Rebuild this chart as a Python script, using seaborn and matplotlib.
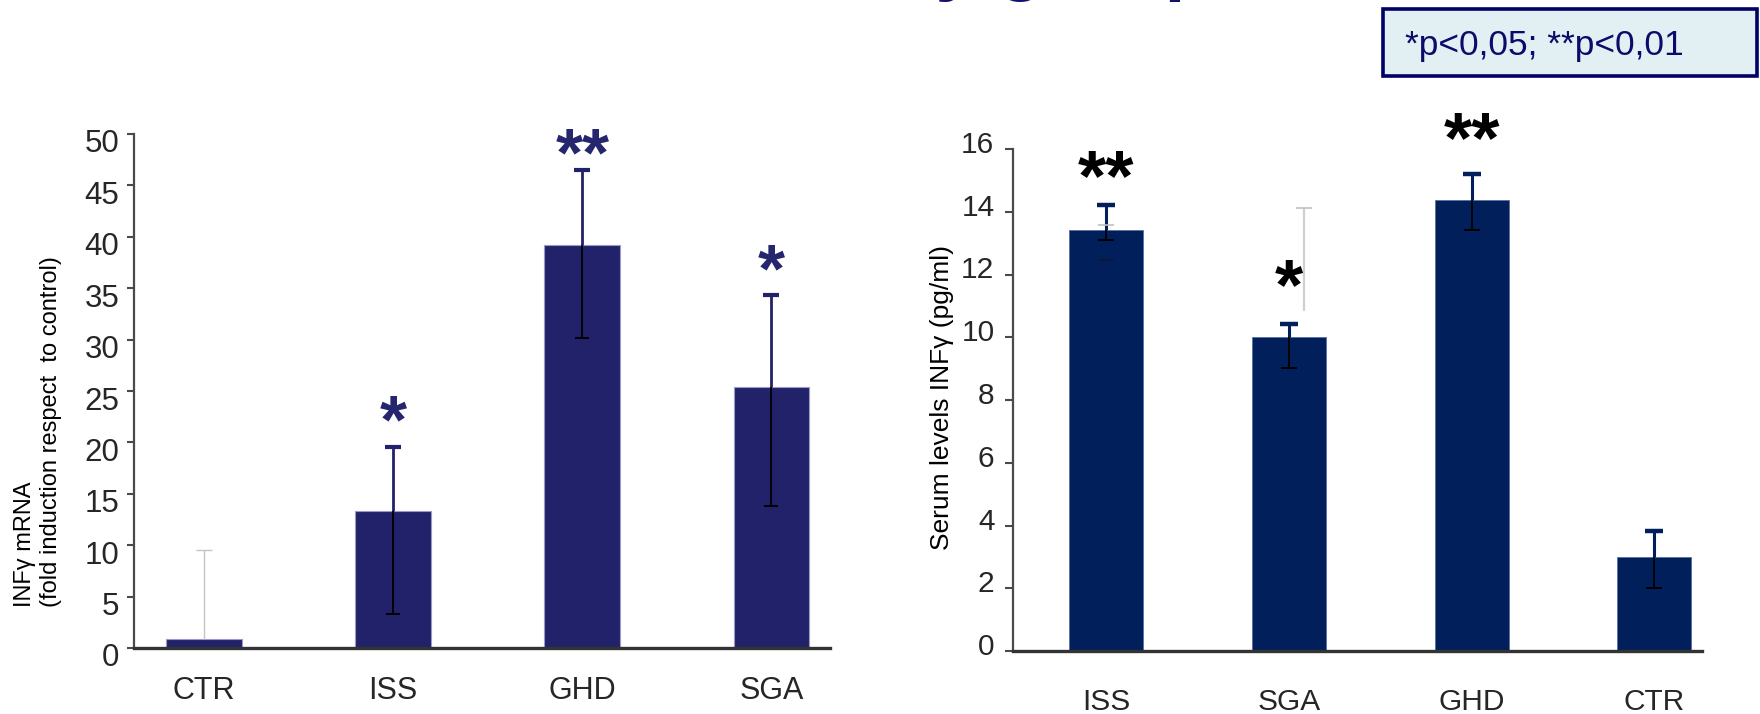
import numpy as np
import pandas as pd
import matplotlib
matplotlib.use("Agg")
import matplotlib.pyplot as plt
from matplotlib.transforms import ScaledTranslation
from matplotlib.patches import Rectangle
import seaborn as sns

# ---------------- data ----------------
left_cats = ["CTR", "ISS", "GHD", "SGA"]
left_means = [0.9, 13.3, 39.2, 25.4]
left_err_top = [9.5, 19.6, 46.5, 34.3]
left_err_bottom = [np.nan, 3.35, 30.15, 13.85]
left_stars = ["", "*", "**", "*"]
left_star_y = [np.nan, 23.4, 49.4, 38.1]
left_yticks = [0, 5, 10, 15, 20, 25, 30, 35, 40, 45, 50]

right_cats = ["ISS", "SGA", "GHD", "CTR"]
right_means = [13.41, 10.0, 14.39, 3.0]
right_err_top = [14.21, 10.43, 15.19, 3.81]
right_err_bottom = [13.1, 9.03, 13.43, 2.0]
right_ghost_top = [13.57, 14.11, np.nan, np.nan]
right_ghost_bottom = [12.45, 10.85, np.nan, np.nan]
right_stars = ["**", "*", "**", ""]
right_star_y = [15.4, 11.93, 16.62, np.nan]
right_yticks = [0, 2, 4, 6, 8, 10, 12, 14, 16]

left_ylabel = "INFγ mRNA\n(fold induction respect  to control)"
right_ylabel = "Serum levels INFγ (pg/ml)"
legend_text = "*p<0,05; **p<0,01"
title_text = "Interferon levels by group"

# ---------------- style ----------------
sns.set_theme(style="white")
plt.rcParams["font.family"] = ["Liberation Sans", "DejaVu Sans"]

LEFT_BAR = "#22226A"
LEFT_STAR = "#26266E"
RIGHT_BAR = "#001F5B"
GRAY = "#C4C4C4"

fig = plt.figure(figsize=(17.6, 7.14), dpi=100)
W, H = 1760, 714

def axes_px(x0, x1, ytop, ybot):
    return fig.add_axes([x0 / W, 1 - ybot / H, (x1 - x0) / W, (ybot - ytop) / H])

# ---------------- left chart ----------------
axL = axes_px(134, 830, 134, 648)
dfL = pd.DataFrame({"group": left_cats, "value": left_means})
sns.barplot(data=dfL, x="group", y="value", order=left_cats, width=0.40,
            color=LEFT_BAR, saturation=1, edgecolor="#9A9AC8", linewidth=0.8,
            errorbar=None, ax=axL, zorder=2)
xL = np.arange(len(left_cats))
mL = np.array(left_means)
tL = np.array(left_err_top)
bL = np.array(left_err_bottom)
up_cols = [GRAY] + [LEFT_BAR] * 3
for i in range(len(xL)):
    lw = 1.0 if i == 0 else 2.0
    axL.errorbar(xL[i], mL[i], yerr=[[0], [tL[i] - mL[i]]], fmt="none",
                 ecolor=up_cols[i], elinewidth=lw, capsize=0, zorder=3)
    axL.plot([xL[i]], [tL[i]], marker="_", ms=11, mew=(1.0 if i == 0 else 3.0),
             color=up_cols[i], ls="none", zorder=3)
    if not np.isnan(bL[i]):
        axL.errorbar(xL[i], mL[i], yerr=[[mL[i] - bL[i]], [0]], fmt="none",
                     ecolor="black", elinewidth=1.3, capsize=0, zorder=3)
        axL.plot([xL[i]], [bL[i]], marker="_", ms=10, mew=1.4, color="black",
                 ls="none", zorder=3)
    if left_stars[i]:
        axL.annotate(left_stars[i], (xL[i], left_star_y[i]), xytext=(0, -12.4),
                     textcoords="offset points", ha="center", va="center",
                     fontsize=50, fontweight="bold", color=LEFT_STAR,
                     annotation_clip=False)

axL.set_ylim(0, 50)
axL.set_xlim(-0.37, 3.31)
axL.set_yticks(left_yticks)
axL.set_xlabel("")
axL.set_ylabel("")
for s in ["top", "right"]:
    axL.spines[s].set_visible(False)
axL.spines["left"].set_color("#4a4a4a")
axL.spines["left"].set_linewidth(1.6)
axL.spines["bottom"].set_color("#333333")
axL.spines["bottom"].set_linewidth(2.4)
axL.tick_params(axis="y", direction="out", length=5.3, width=1.5, color="#4a4a4a",
                pad=5.3, labelsize=22.5, left=True)
axL.tick_params(axis="x", length=0, pad=20.5, labelsize=22)
for lab in axL.get_yticklabels():
    lab.set_transform(lab.get_transform() + ScaledTranslation(0, -0.07, fig.dpi_scale_trans))

fig.text(38 / W, 1 - 607 / H, left_ylabel, rotation=90, ha="center", va="bottom",
         multialignment="left", fontsize=17, color="black")

# ---------------- right chart ----------------
axR = axes_px(1012.5, 1702, 149, 651)
dfR = pd.DataFrame({"group": right_cats, "value": right_means})
xR = np.arange(len(right_cats))
mR = np.array(right_means)
tR = np.array(right_err_top)
bR = np.array(right_err_bottom)
gT = np.array(right_ghost_top)
gB = np.array(right_ghost_bottom)
ghost_dx = [0.0, 0.083, 0.0, 0.0]

for i in range(len(xR)):
    if not np.isnan(gT[i]):
        if ghost_dx[i] != 0:
            axR.errorbar(xR[i] + ghost_dx[i], gB[i], yerr=[[0], [gT[i] - gB[i]]], fmt="none",
                         ecolor="#D0D0D0", elinewidth=1.6, capsize=0, zorder=1)
        axR.plot([xR[i] + ghost_dx[i]], [gT[i]], marker="_", ms=12, mew=1.2,
                 color="#C0C0C0", ls="none", zorder=4)
        if ghost_dx[i] == 0:
            axR.plot([xR[i]], [gB[i]], marker="_", ms=12, mew=1.2,
                     color="#101830", ls="none", zorder=4)

sns.barplot(data=dfR, x="group", y="value", order=right_cats, width=0.405,
            color=RIGHT_BAR, saturation=1, edgecolor="#5a6fa0", linewidth=0.6,
            errorbar=None, ax=axR, zorder=2)
for i in range(len(xR)):
    axR.errorbar(xR[i], mR[i], yerr=[[0], [tR[i] - mR[i]]], fmt="none",
                 ecolor=RIGHT_BAR, elinewidth=2.2, capsize=0, zorder=3)
    axR.plot([xR[i]], [tR[i]], marker="_", ms=13, mew=3.2, color=RIGHT_BAR,
             ls="none", zorder=3)
    axR.errorbar(xR[i], mR[i], yerr=[[mR[i] - bR[i]], [0]], fmt="none",
                 ecolor="black", elinewidth=1.3, capsize=0, zorder=3)
    axR.plot([xR[i]], [bR[i]], marker="_", ms=11, mew=1.4, color="black",
             ls="none", zorder=3)
    if right_stars[i]:
        axR.annotate(right_stars[i], (xR[i], right_star_y[i]), xytext=(0, -9.6),
                     textcoords="offset points", ha="center", va="center",
                     fontsize=52, fontweight="bold", color="black",
                     annotation_clip=False)

axR.set_ylim(0, 16)
axR.set_xlim(-0.511, 3.26)
axR.set_yticks(right_yticks)
axR.set_xlabel("")
axR.set_ylabel("")
for s in ["top", "right"]:
    axR.spines[s].set_visible(False)
axR.spines["left"].set_color("#4a4a4a")
axR.spines["left"].set_linewidth(1.6)
axR.spines["bottom"].set_color("#333333")
axR.spines["bottom"].set_linewidth(2.4)
axR.tick_params(axis="y", direction="out", length=5.8, width=1.5, color="#4a4a4a",
                pad=7.2, labelsize=21.5, left=True)
axR.tick_params(axis="x", length=0, pad=27, labelsize=21.5)
for lab in axR.get_yticklabels():
    lab.set_transform(lab.get_transform() + ScaledTranslation(0, 0.07, fig.dpi_scale_trans))

fig.text(942 / W, 1 - 550 / H, right_ylabel, rotation=90, ha="center", va="bottom",
         fontsize=19, color="black")

# ---------------- legend box and cut-off title ----------------
box = Rectangle((1383 / W, 1 - 76 / H), (1757 - 1383) / W, (76 - 9) / H,
                transform=fig.transFigure, facecolor="#E3F0F3", edgecolor="#000066",
                linewidth=2.6, zorder=5)
fig.add_artist(box)
fig.text(1405 / W, 1 - 46 / H, legend_text, ha="left", va="center",
         fontsize=25.5, color="#0B0B6B", zorder=6)

fig.text(1210 / W, 1 + 12.7 / H, title_text, ha="right", va="baseline",
         fontsize=54, fontweight="bold", color="#12126E")

fig.savefig("out.png", dpi=100)
